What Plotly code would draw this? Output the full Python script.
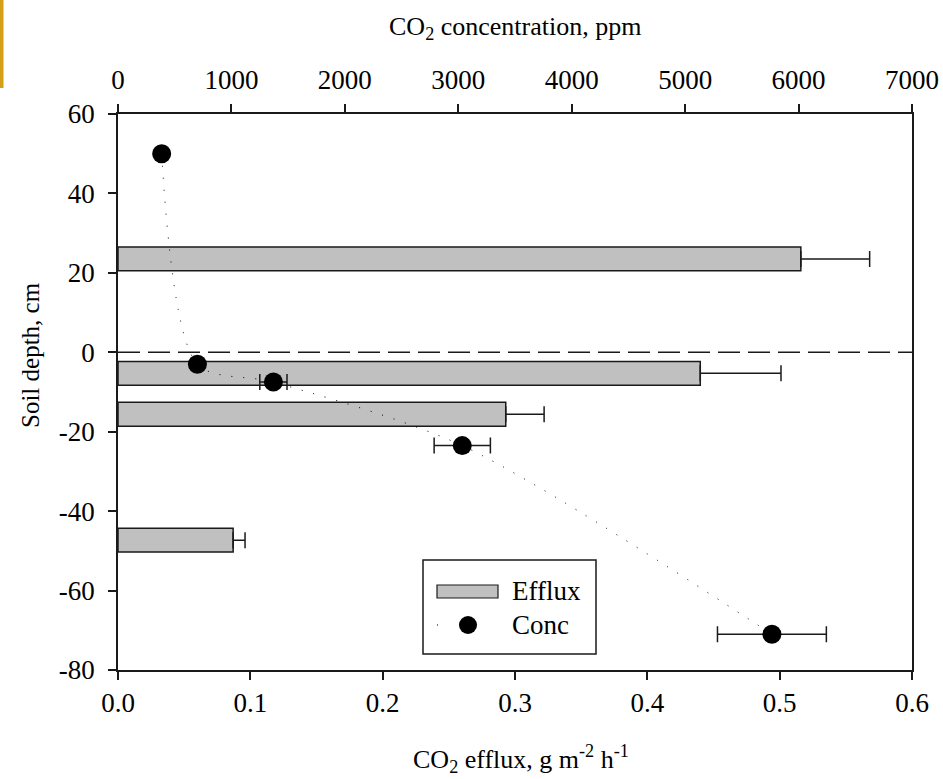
import plotly.graph_objects as go

# ---- data ----
efflux_depth = [23.5, -5.3, -15.6, -47.3]
efflux = [0.516, 0.440, 0.293, 0.087]
efflux_err = [0.052, 0.061, 0.029, 0.009]

conc_depth = [50, -3, -7.5, -23.5, -71]
conc = [385, 700, 1370, 3035, 5765]
conc_err = [0, 0, 120, 248, 480]

efflux_ticks = [0.0, 0.1, 0.2, 0.3, 0.4, 0.5, 0.6]
efflux_labels = ["0.0", "0.1", "0.2", "0.3", "0.4", "0.5", "0.6"]
conc_ticks = [0, 1000, 2000, 3000, 4000, 5000, 6000, 7000]
conc_labels = ["0", "1000", "2000", "3000", "4000", "5000", "6000", "7000"]
depth_ticks = [-80, -60, -40, -20, 0, 20, 40, 60]
depth_labels = ["-80", "-60", "-40", "-20", "0", "20", "40", "60"]

# ---- geometry of the page (pixels) ----
W, H = 943, 779
L, R, T, B = 118, 912, 114, 670
FONT = "Liberation Serif"


def px(xp):
    return (xp - L) / (R - L)


def py(yp):
    return (B - yp) / (B - T)


fig = go.Figure()

fig.add_trace(go.Bar(
    x=efflux, y=efflux_depth, orientation="h", width=6,
    marker=dict(color="#C0C0C0", line=dict(color="#1a1a1a", width=1.5)),
    error_x=dict(type="data", symmetric=False, array=efflux_err,
                 arrayminus=[0] * len(efflux_err), color="#1a1a1a",
                 thickness=1.5, width=8),
    name="Efflux", xaxis="x", yaxis="y",
))

fig.add_trace(go.Scatter(
    x=conc, y=conc_depth, mode="lines+markers",
    line=dict(color="black", width=1, dash="1px,11px", shape="spline", smoothing=0.8),
    marker=dict(color="black", size=19, symbol="circle"),
    error_x=dict(type="data", array=conc_err, color="#1a1a1a", thickness=1.5, width=8),
    name="Conc", xaxis="x2", yaxis="y",
))

TICKFONT = dict(family=FONT, size=27, color="black")
axis_common = dict(
    ticks="outside", ticklen=8, tickwidth=1.5, tickcolor="#1a1a1a",
    showline=True, linewidth=1.5, linecolor="#1a1a1a",
    showgrid=False, zeroline=False,
)

fig.update_layout(
    width=W, height=H,
    margin=dict(l=L, r=W - R, t=T, b=H - B, autoexpand=False),
    plot_bgcolor="white", paper_bgcolor="white",
    showlegend=False,
    font=dict(family=FONT, color="black", size=25),
    xaxis=dict(range=[0, 0.6], tickvals=efflux_ticks, ticktext=efflux_labels,
               tickfont=TICKFONT, ticklabelstandoff=0, **axis_common),
    xaxis2=dict(range=[0, 7000], tickvals=conc_ticks, ticktext=conc_labels,
                tickfont=TICKFONT, overlaying="x", side="top", ticklabelstandoff=4,
                **axis_common),
    yaxis=dict(range=[-80, 60], tickvals=depth_ticks, ticktext=depth_labels, mirror=True,
               tickfont=TICKFONT, ticklabelstandoff=8, **axis_common),
)

# dashed soil-surface line
fig.add_shape(type="line", xref="paper", yref="y", x0=0, x1=1, y0=0, y1=0,
              line=dict(color="#1a1a1a", width=1.5, dash="22px,8px"), layer="above")

# axis titles
fig.add_annotation(text="CO<sub>2</sub> efflux, g m<sup>-2</sup> h<sup>-1</sup>",
                   xref="paper", yref="paper", x=px(521), y=0, yanchor="middle",
                   yshift=-(759 - B), showarrow=False, font=dict(family=FONT, size=26))
fig.add_annotation(text="CO<sub>2</sub> concentration, ppm",
                   xref="paper", yref="paper", x=px(515), y=1, yanchor="middle",
                   yshift=(T - 28), showarrow=False, font=dict(family=FONT, size=26))
fig.add_annotation(text="Soil depth, cm", textangle=-90,
                   xref="paper", yref="paper", x=0, y=py(355), xanchor="center",
                   yanchor="middle", xshift=(30 - L), showarrow=False,
                   font=dict(family=FONT, size=25))

# legend box (drawn by hand to mimic the original)
fig.add_shape(type="rect", xref="paper", yref="paper",
              x0=px(423), x1=px(596), y0=py(560), y1=py(654),
              line=dict(color="#1a1a1a", width=1.5), fillcolor="white", layer="above")
fig.add_shape(type="rect", xref="paper", yref="paper",
              x0=px(437), x1=px(498), y0=py(585), y1=py(598),
              line=dict(color="#1a1a1a", width=1.2), fillcolor="#C0C0C0", layer="above")
fig.add_shape(type="line", xref="paper", yref="paper",
              x0=px(437), x1=px(498), y0=py(625), y1=py(625),
              line=dict(color="black", width=1, dash="1px,30px"), layer="above")
fig.add_shape(type="circle", xref="paper", yref="paper",
              xsizemode="pixel", ysizemode="pixel",
              xanchor=px(468), yanchor=py(625), x0=-9, x1=9, y0=-9, y1=9,
              fillcolor="black", line=dict(color="black", width=0), layer="above")
fig.add_annotation(text="Efflux", xref="paper", yref="paper", x=px(510), y=py(591),
                   xanchor="left", yanchor="middle", showarrow=False,
                   font=dict(family=FONT, size=27))
fig.add_annotation(text="Conc", xref="paper", yref="paper", x=px(510), y=py(625),
                   xanchor="left", yanchor="middle", showarrow=False,
                   font=dict(family=FONT, size=27))

# gold edge strip at top-left of the slide
fig.add_shape(type="rect", xref="paper", yref="paper",
              x0=px(0), x1=px(3.5), y0=py(0), y1=py(88),
              line=dict(width=0), fillcolor="#D4A017", layer="above")

fig.write_html("out.html")
